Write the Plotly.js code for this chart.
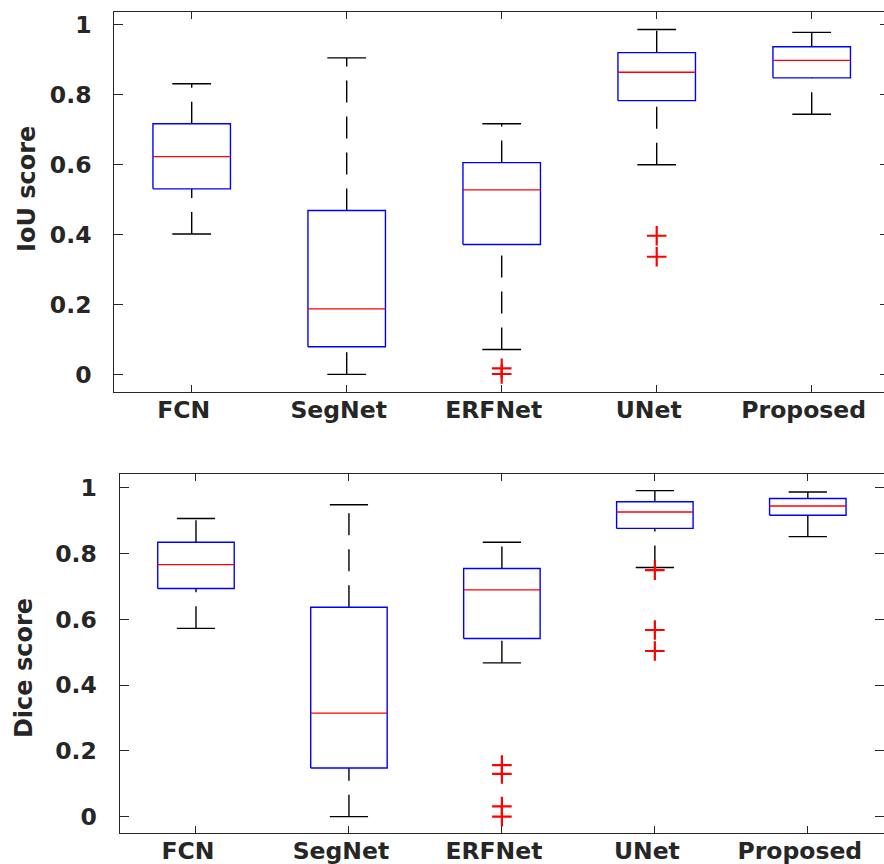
<!DOCTYPE html>
<html>
<head>
<meta charset="utf-8">
<script src="https://cdn.plot.ly/plotly-3.0.1.min.js"></script>
<style>
  html, body { margin: 0; padding: 0; overflow: hidden; background: #fff; }
  #chart { width: 892px; height: 864px; }
</style>
</head>
<body>
<div id="chart"></div>
<script>
// Segmentation methods compared in both panels
const methods = ['FCN', 'SegNet', 'ERFNet', 'UNet', 'Proposed'];

// IoU score summary per method
const iouLowerWhisker = [0.401, 0.000, 0.071, 0.599, 0.743];
const iouQ1           = [0.530, 0.079, 0.371, 0.782, 0.847];
const iouMedian       = [0.622, 0.187, 0.527, 0.863, 0.897];
const iouQ3           = [0.716, 0.468, 0.605, 0.919, 0.936];
const iouUpperWhisker = [0.830, 0.904, 0.716, 0.985, 0.977];
const iouOutliers     = [[], [], [0.017, 0.001], [0.396, 0.336], []];

// Dice score summary per method
const diceLowerWhisker = [0.573, 0.000, 0.468, 0.758, 0.852];
const diceQ1           = [0.694, 0.148, 0.542, 0.877, 0.917];
const diceMedian       = [0.767, 0.315, 0.690, 0.927, 0.945];
const diceQ3           = [0.835, 0.637, 0.755, 0.958, 0.968];
const diceUpperWhisker = [0.907, 0.949, 0.835, 0.992, 0.988];
const diceOutliers     = [[], [], [0.157, 0.130, 0.031, 0.000], [0.750, 0.568, 0.504], []];

const yTickVals = [0, 0.2, 0.4, 0.6, 0.8, 1];
const yTickText = ['0', '0.2', '0.4', '0.6', '0.8', '1'];

const BOX_HALF = 0.25;   // half box width in category units
const CAP_HALF = 0.125;  // half whisker-cap width
const LW = 1.4;

// Build MATLAB-style box plot traces from the summary arrays
function boxTraces(lo, q1, med, q3, hi, out, xa, ya) {
  const bx = [], by = [], mx = [], my = [], wx = [], wy = [], cx = [], cy = [], ox = [], oy = [];
  for (let i = 0; i < methods.length; i++) {
    const x = i + 1;
    bx.push(x - BOX_HALF, x + BOX_HALF, x + BOX_HALF, x - BOX_HALF, x - BOX_HALF, null);
    by.push(q1[i], q1[i], q3[i], q3[i], q1[i], null);
    mx.push(x - BOX_HALF, x + BOX_HALF, null);
    my.push(med[i], med[i], null);
    // whiskers drawn upward: lower value -> Q1, Q3 -> upper value
    wx.push(x, x, null, x, x, null);
    wy.push(lo[i], q1[i], null, q3[i], hi[i], null);
    cx.push(x - CAP_HALF, x + CAP_HALF, null, x - CAP_HALF, x + CAP_HALF, null);
    cy.push(lo[i], lo[i], null, hi[i], hi[i], null);
    out[i].forEach(v => { ox.push(x); oy.push(v); });
  }
  const common = { xaxis: xa, yaxis: ya, hoverinfo: 'skip', showlegend: false };
  return [
    Object.assign({ type: 'scatter', mode: 'lines', x: wx, y: wy,
      line: { color: '#000000', width: LW, dash: '22px,14px' } }, common),
    Object.assign({ type: 'scatter', mode: 'lines', x: cx, y: cy,
      line: { color: '#000000', width: LW } }, common),
    Object.assign({ type: 'scatter', mode: 'lines', x: bx, y: by,
      line: { color: '#0000ff', width: LW } }, common),
    Object.assign({ type: 'scatter', mode: 'lines', x: mx, y: my,
      line: { color: '#ff0000', width: LW } }, common),
    Object.assign({ type: 'scatter', mode: 'markers', x: ox, y: oy,
      marker: { symbol: 'cross-thin', size: 14, color: '#ff0000',
                line: { color: '#ff0000', width: 2.2 } } }, common)
  ];
}

const data = [].concat(
  boxTraces(iouLowerWhisker, iouQ1, iouMedian, iouQ3, iouUpperWhisker, iouOutliers, 'x', 'y'),
  boxTraces(diceLowerWhisker, diceQ1, diceMedian, diceQ3, diceUpperWhisker, diceOutliers, 'x2', 'y2')
);

const FONT = 'DejaVu Sans, Liberation Sans, Arial, sans-serif';
const INK = '#262626';
const tickFont = { family: FONT, size: 23.5, color: INK, weight: 'bold' };
const titleFont = { family: FONT, size: 24, color: INK, weight: 'bold' };

function xAxis(domain, anchor) {
  return {
    domain: domain, anchor: anchor, range: [0.5, 5.5],
    tickvals: [1, 2, 3, 4, 5], ticktext: methods,
    showline: true, mirror: 'ticks', linecolor: INK, linewidth: 1,
    ticks: 'inside', ticklen: 7, tickwidth: 1, tickcolor: INK,
    showgrid: false, zeroline: false, tickfont: tickFont,
    ticklabelstandoff: -3, ticklabelshift: -8
  };
}
function yAxis(domain, anchor, range) {
  return {
    domain: domain, anchor: anchor, range: range,
    tickvals: yTickVals, ticktext: yTickText,
    showline: true, mirror: 'ticks', linecolor: INK, linewidth: 1,
    ticks: 'inside', ticklen: 9, tickwidth: 1, tickcolor: INK,
    showgrid: false, zeroline: false, tickfont: tickFont, ticklabelstandoff: 17
  };
}

const layout = {
  width: 892, height: 864,
  margin: { l: 0, r: 0, t: 0, b: 0 },
  paper_bgcolor: '#ffffff', plot_bgcolor: '#ffffff',
  xaxis: xAxis([0.12803, 0.99686], 'y'),
  yaxis: yAxis([0.54664, 0.98611], 'x', [-0.0496, 1.0352]),
  xaxis2: xAxis([0.13397, 0.99136], 'y2'),
  yaxis2: yAxis([0.03623, 0.45174], 'x2', [-0.0488, 1.0435]),
  annotations: [
    { text: 'IoU score', xref: 'paper', yref: 'paper', x: 0.0303, y: 0.7813,
      xanchor: 'center', yanchor: 'middle', textangle: -90, showarrow: false,
      font: titleFont },
    { text: 'Dice score', xref: 'paper', yref: 'paper', x: 0.027, y: 1 - 668 / 864,
      xanchor: 'center', yanchor: 'middle', textangle: -90, showarrow: false,
      font: titleFont }
  ]
};

Plotly.newPlot('chart', data, layout, { staticPlot: true, displayModeBar: false });
</script>
</body>
</html>
